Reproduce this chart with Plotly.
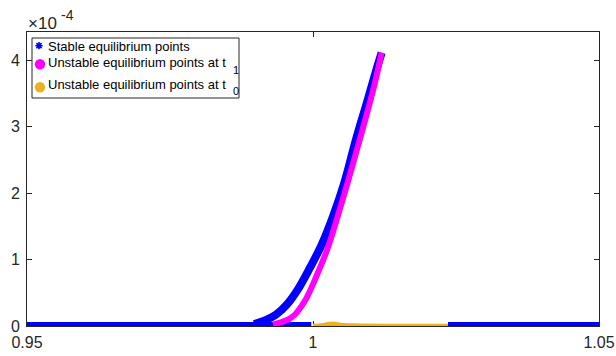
import plotly.graph_objects as go

# ---- data (x in p.u., y in units of 1e-4) ----
stable_flat_left_x = [0.95, 0.9997]
stable_flat_left_y = [0.0, 0.0]
stable_branch_x = [0.9897, 0.9915, 0.9935, 0.9955, 0.9975, 0.9995, 1.0015,
                   1.0035, 1.0055, 1.0075, 1.0095, 1.0110, 1.0120]
stable_branch_y = [0.03, 0.08, 0.17, 0.33, 0.57, 0.88, 1.22,
                   1.65, 2.16, 2.80, 3.38, 3.83, 4.11]
stable_flat_right_x = [1.0236, 1.0503]
stable_flat_right_y = [0.0, 0.0]

unstable_t1_x = [0.9930, 0.99568, 0.99685, 0.99872, 1.00065, 1.00257,
                 1.00432, 1.00617, 1.00764, 1.00939, 1.01084, 1.0120]
unstable_t1_y = [0.02, 0.098, 0.173, 0.398, 0.759, 1.17,
                 1.65, 2.19, 2.64, 3.18, 3.66, 4.11]

unstable_t0_x = [1.0, 1.0015, 1.0026, 1.0033, 1.0042, 1.0055, 1.0080, 1.0150, 1.0236]
unstable_t0_y = [0.0, 0.008, 0.025, 0.035, 0.025, 0.01, 0.005, 0.0, 0.0]

x_tick_vals = [0.95, 1.0, 1.05]
x_tick_text = ["0.95", "1", "1.05"]
y_tick_vals = [0, 1, 2, 3, 4]
y_tick_text = ["0", "1", "2", "3", "4"]

legend_labels = ["Stable equilibrium points",
                 "Unstable equilibrium points at t",
                 "Unstable equilibrium points at t"]
legend_subscripts = ["1", "0"]

BLUE = "#0000FF"
MAGENTA = "#FF00FF"
ORANGE = "#EDB120"
AXIS = "#262626"
FONT = "Liberation Sans, Arial, Helvetica, sans-serif"

# plot-area geometry in pixels
W, H = 616, 356
L, R, T, B = 27, 17, 32, 30
PW, PH = W - L - R, H - T - B


def px(xp):
    return (xp - L) / PW


def py(yp):
    return (H - B - yp) / PH


stable_x = stable_flat_left_x + [None] + stable_branch_x + [None] + stable_flat_right_x
stable_y = stable_flat_left_y + [None] + stable_branch_y + [None] + stable_flat_right_y

fig = go.Figure()
fig.add_trace(go.Scatter(x=unstable_t0_x, y=unstable_t0_y, mode="lines",
                         line=dict(color=ORANGE, width=4.5, shape="spline"),
                         hoverinfo="skip"))
fig.add_trace(go.Scatter(x=stable_x, y=stable_y, mode="lines",
                         line=dict(color=BLUE, width=8, shape="spline"),
                         hoverinfo="skip"))
fig.add_trace(go.Scatter(x=unstable_t1_x, y=unstable_t1_y, mode="lines",
                         line=dict(color=MAGENTA, width=6, shape="spline"),
                         hoverinfo="skip"))

axis_common = dict(ticks="inside", ticklen=5, tickcolor=AXIS, tickwidth=1,
                   showline=True, linecolor=AXIS, linewidth=1, mirror="ticks",
                   showgrid=False, zeroline=False, layer="below traces",
                   automargin=False,
                   tickfont=dict(family=FONT, size=16, color=AXIS))
fig.update_xaxes(range=[0.95, 1.05], tickmode="array", tickvals=x_tick_vals,
                 ticktext=x_tick_text, ticklabelstandoff=2, **axis_common)
fig.update_yaxes(range=[0, PH / 66.5], tickmode="array", tickvals=y_tick_vals,
                 ticktext=y_tick_text, ticklabelstandoff=3, **axis_common)

shapes = []
annotations = []

# legend box
shapes.append(dict(type="rect", xref="paper", yref="paper",
                   x0=px(32), x1=px(239), y0=py(98), y1=py(38),
                   line=dict(color=AXIS, width=1), fillcolor="white"))

# legend symbols: asterisk, two filled circles
ax, ay = px(39), py(45.7)
shapes.append(dict(type="path", xref="paper", yref="paper",
                   xsizemode="pixel", ysizemode="pixel", xanchor=ax, yanchor=ay,
                   path="M-3.6,0L3.6,0M0,-3.6L0,3.6M-2.6,-2.6L2.6,2.6M-2.6,2.6L2.6,-2.6",
                   line=dict(color=BLUE, width=1.6)))
for color, cy in [(MAGENTA, 64.3), (ORANGE, 87.3)]:
    shapes.append(dict(type="circle", xref="paper", yref="paper",
                       xsizemode="pixel", ysizemode="pixel",
                       xanchor=px(40), yanchor=py(cy),
                       x0=-5.2, x1=5.2, y0=-5.2, y1=5.2,
                       line=dict(color=color, width=0), fillcolor=color))

# legend texts
for label, cy in zip(legend_labels, [46.3, 62.5, 84.3]):
    annotations.append(dict(xref="paper", yref="paper", x=px(47), y=py(cy),
                            xanchor="left", yanchor="middle", text=label,
                            showarrow=False, borderpad=0,
                            font=dict(family=FONT, size=13, color="black")))
for sub, cx, cy in zip(legend_subscripts, [231.5, 231.5], [69.8, 91.5]):
    annotations.append(dict(xref="paper", yref="paper", x=px(cx), y=py(cy),
                            xanchor="left", yanchor="middle", text=sub,
                            showarrow=False, borderpad=0,
                            font=dict(family=FONT, size=11, color="black")))

# exponent label of the y axis: ×10 with raised -4
annotations.append(dict(xref="paper", yref="paper", x=px(27), y=py(23.3),
                        xanchor="left", yanchor="middle",
                        text="×10", showarrow=False, borderpad=0,
                        font=dict(family=FONT, size=17, color=AXIS)))
annotations.append(dict(xref="paper", yref="paper", x=px(59.5), y=py(15),
                        xanchor="left", yanchor="middle",
                        text="-4", showarrow=False, borderpad=0,
                        font=dict(family=FONT, size=14, color=AXIS)))

fig.update_layout(width=W, height=H, margin=dict(l=L, r=R, t=T, b=B),
                  paper_bgcolor="white", plot_bgcolor="white",
                  showlegend=False, shapes=shapes, annotations=annotations)

fig.write_html("out.html", config={"displayModeBar": False})
